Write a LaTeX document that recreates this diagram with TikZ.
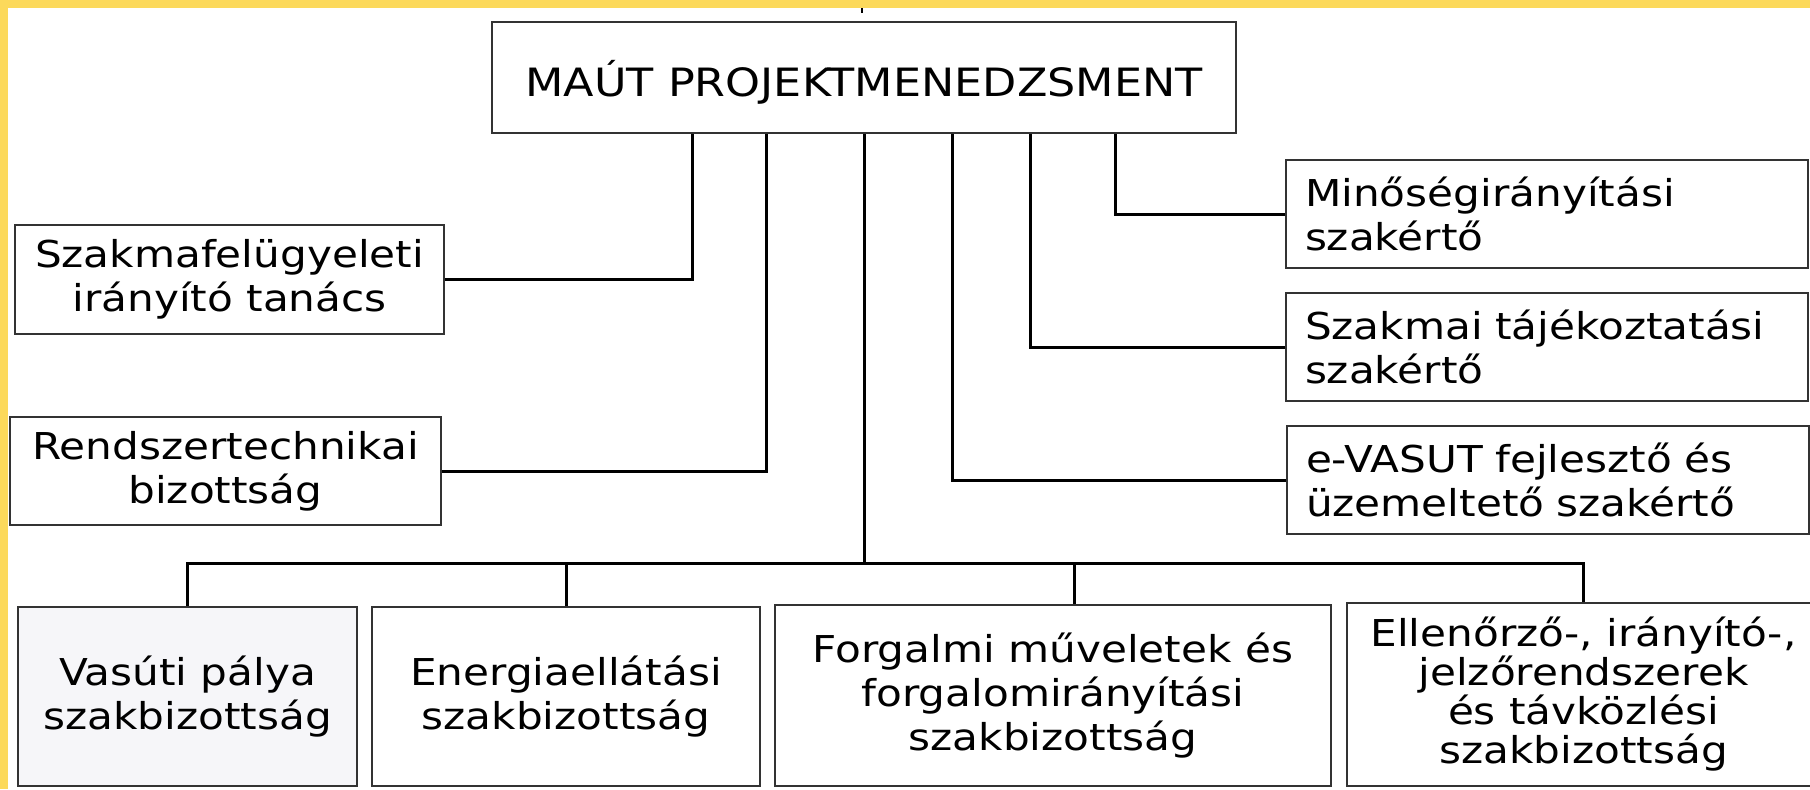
\documentclass[tikz,border=0pt]{standalone}
\usepackage{fontspec}
\setmainfont{DejaVu Sans}[FakeStretch=1.14]

\definecolor{gold}{HTML}{FCD95B}
\definecolor{paleblue}{HTML}{F6F6F9}

\tikzset{
  box/.style={draw=black!80, line width=1pt, rectangle, inner sep=0pt,
    align=center, font=\fontsize{18.5}{22}\selectfont},
  rbox/.style={box, align=left, text width=242pt, inner xsep=9.5pt,
    minimum height=54pt},
  link/.style={line width=1.5pt, black},
}

\begin{document}
\begin{tikzpicture}[x=0.5pt, y=-0.5pt]
  % page and yellow frame
  \fill[white] (0,0) rectangle (1810,789);
  \useasboundingbox (0,0) rectangle (1810,789);
  \fill[gold] (0,0) rectangle (1810,8);
  \fill[gold] (0,0) rectangle (8,789);

  % top
  \node[box, minimum width=372pt, minimum height=55.5pt,
    font=\fontsize{19.5}{22}\selectfont, text height=23pt] (top) at (864,77.5)
    {MAÚT PROJEKTMENEDZSMENT};

  % left side
  \node[box, minimum width=214.5pt, minimum height=54.5pt] (szak) at (229.5,279.5)
    {Szakmafelügyeleti\\irányító tanács};
  \node[box, minimum width=215.5pt, minimum height=54pt] (rend) at (225.5,471)
    {Rendszertechnikai\\bizottság};

  % right side
  \node[rbox] (minos) at (1547,214) {Minőségirányítási\\szakértő};
  \node[rbox] (szakmai) at (1547,347) {Szakmai tájékoztatási\\szakértő};
  \node[rbox] (evasut) at (1548,480) {e-VASUT fejlesztő és\\üzemeltető szakértő};

  % bottom row
  \node[box, fill=paleblue, minimum width=169.5pt, minimum height=89.5pt] (vasut)
    at (187.5,696.5) {Vasúti pálya\\szakbizottság};
  \node[box, minimum width=194pt, minimum height=89.5pt] (energia)
    at (566,696.5) {Energiaellátási\\szakbizottság};
  \node[box, minimum width=278pt, minimum height=90.5pt] (forg)
    at (1053,695.5) {Forgalmi műveletek és\\forgalomirányítási\\szakbizottság};
  \node[box, minimum width=236.5pt, minimum height=91.5pt,
    font=\fontsize{18.5}{19.5}\selectfont] (ellen)
    at (1583.5,694.5) {Ellenőrző-, irányító-,\\jelzőrendszerek\\és távközlési\\szakbizottság};

  % drop points
  \coordinate (d1) at (692,0);
  \coordinate (d2) at (766,0);
  \coordinate (d3) at (952,0);
  \coordinate (d4) at (1030,0);
  \coordinate (d5) at (1115,0);
  \coordinate (d6) at (1074,0);
  \coordinate (bus) at (864,563);
  \coordinate (ticka) at (862,8);
  \coordinate (tickb) at (862,13);

  % connectors
  \draw[line width=0.6pt] (ticka) -- (tickb);
  \draw[link] (szak.east) -| (top.south -| d1);
  \draw[link] (rend.east) -| (top.south -| d2);
  \draw[link] (evasut.west) -| (top.south -| d3);
  \draw[link] (szakmai.west) -| (top.south -| d4);
  \draw[link] (minos.west) -| (top.south -| d5);
  \draw[link] (top.south) -- (bus);
  \draw[link] (vasut.north) |- (bus) -| (ellen.north);
  \draw[link] (energia.north) -- (energia.north |- bus);
  \draw[link] (forg.north -| d6) -- (bus -| d6);
\end{tikzpicture}
\end{document}
